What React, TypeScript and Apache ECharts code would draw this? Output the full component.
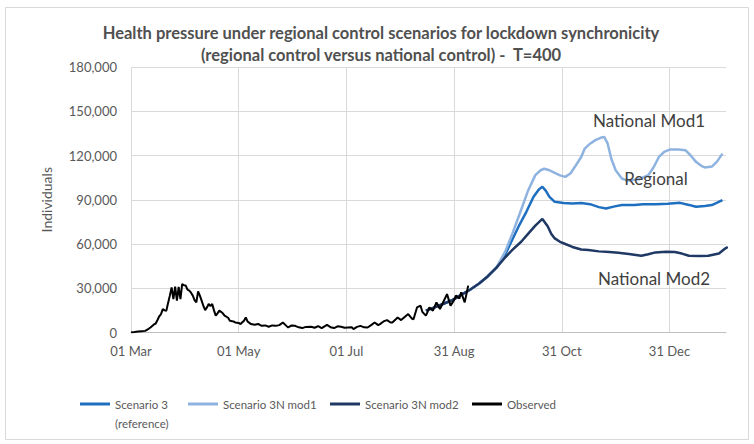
import React, { useEffect, useRef } from "react";
import * as echarts from "echarts";

// Day index 0 = 01 Mar 2020; values in thousands of individuals
const observed: number[][] = [
  [0, 0], [2, 0.3], [4, 0.7], [6, 0.9], [8, 1.1], [10, 2.5], [11, 3.4], [13, 5.5], [14, 6.1], [15, 8.5],
  [16, 11], [17, 12.5], [18, 15.9], [19, 15], [20, 14.8], [21, 20], [22, 25], [23, 30.6], [24, 22.7], [25, 31.1],
  [26, 21.6], [27, 31], [28, 22.7], [29, 32.9], [30, 32], [31, 31.8], [32, 29], [33, 28.4], [34, 27], [35, 25],
  [36, 22], [37, 20.4], [38, 27.9], [39, 25], [40, 21.6], [41, 18], [42, 15.2], [43, 17], [44, 19.3], [45, 18],
  [46, 19.3], [47, 15], [48, 11.4], [49, 13], [50, 14.8], [51, 14], [52, 13], [53, 11.4], [55, 10], [56, 8],
  [58, 7.5], [59, 6.8], [61, 6.5], [62, 5.7], [64, 8], [65, 10.2], [66, 7.5], [68, 5.7], [70, 5.2], [72, 5.8],
  [74, 4.5], [76, 4.8], [78, 3.9], [80, 4.8], [82, 4.5], [84, 5], [86, 6.8], [88, 4.5], [89, 3.4], [91, 4.8],
  [93, 4.5], [95, 3.5], [97, 3], [99, 3.8], [102, 3.9], [104, 3.2], [106, 4.3], [108, 3], [111, 5.2], [113, 3.6],
  [115, 3], [117, 4.2], [119, 3.9], [121, 3.2], [123, 3.4], [125, 3.6], [126, 2.3], [128, 3.8], [130, 4.5], [132, 3.5],
  [134, 3.4], [136, 5], [138, 6.8], [140, 5], [141, 5.7], [143, 7.5], [145, 8.4], [147, 6.8], [148, 6.8], [150, 9],
  [151, 10.2], [153, 8.4], [155, 10.5], [157, 12.5], [159, 9.5], [160, 9], [162, 17], [164, 18.2], [165, 14], [167, 11.4],
  [168, 14], [169, 17], [171, 14.8], [173, 20.4], [175, 15.9], [177, 21], [179, 26], [181, 18.2], [183, 22], [184, 25],
  [186, 23], [187, 27.2], [189, 20.4], [191, 31.8],
];

const commonRise: number[][] = [
  [167, 14.8], [172, 17], [177, 19.5], [182, 22], [187, 25.5], [192, 29], [197, 33], [202, 38], [207, 44],
];

const regionalTail: number[][] = [
  [212, 53], [216, 63], [220, 73], [224, 82], [228, 92], [231, 97], [233, 98.8], [235, 96], [237, 92], [240, 88.6],
  [245, 87.8], [250, 87.5], [255, 87.8], [260, 87], [265, 85], [269, 84.1], [274, 85.5], [278, 86.4], [285, 86.5],
  [290, 87], [297, 87], [304, 87.3], [311, 87.9], [316, 86.5], [320, 85.2], [325, 85.8], [329, 86.4], [332, 88], [335, 89.7],
];

const mod1Tail: number[][] = [
  [212, 55], [216, 67], [220, 80], [225, 96.5], [229, 106.7], [232, 110], [234, 111], [237, 110], [240, 108.2],
  [243, 106.5], [246, 105.5], [249, 108], [252, 113.4], [255, 119], [257, 124.7], [260, 128], [263, 130.4], [266, 132],
  [268, 132.6], [270, 128], [272, 118], [274.5, 110], [278, 104.4], [281, 103], [284, 103.3], [288, 104], [293, 106.7],
  [296, 112], [299, 119], [302, 122.5], [305, 124], [310, 124], [314, 123.6], [317, 120], [320, 115.7], [323, 113],
  [325, 111.9], [329, 112.5], [332, 116], [335, 121.3],
];

const mod2Tail: number[][] = [
  [212, 51], [216, 56], [221, 61.5], [225, 67], [229, 72.5], [233, 77], [236, 72], [238, 67], [240, 63.8], [243, 61.5],
  [246, 60], [250, 58], [255, 56.3], [259, 55.9], [265, 55], [271, 54.6], [276, 54], [282, 53.2], [289, 52], [293, 53],
  [297, 54.3], [303, 54.8], [308, 54.6], [312, 53.5], [316, 52], [322, 51.8], [327, 52], [333, 53.6], [336, 56.5], [338, 58],
];

const seriesNames = ["Scenario 3 (reference)", "Scenario 3N mod1", "Scenario 3N mod2", "Observed"];
const seriesColors = ["#1f6fc0", "#8fb3e0", "#1f3864", "#000000"];
const yTicks = { min: 0, max: 180000, interval: 30000 };
const xTicks = { min: 0, max: 337, interval: 61 };
const annotations = ["National Mod1", "Regional", "National Mod2"];
const titleLines = [
  "Health pressure under regional control scenarios for lockdown synchronicity",
  "(regional control versus national control) -  T=400",
];

const START = Date.UTC(2020, 2, 1);
const MONTHS = ["Jan", "Feb", "Mar", "Apr", "May", "Jun", "Jul", "Aug", "Sep", "Oct", "Nov", "Dec"];
const fmtDay = (v: number) => {
  const d = new Date(START + v * 86400000);
  return String(d.getUTCDate()).padStart(2, "0") + " " + MONTHS[d.getUTCMonth()];
};
const toUnits = (arr: number[][]) => arr.map(([d, v]) => [d, v * 1000]);

const FONT = "Lato";
const TEXT = "#595959";

export default function App() {
  const ref = useRef<HTMLDivElement>(null);
  useEffect(() => {
    if (!ref.current) return;
    const chart = echarts.init(ref.current, null, { renderer: "svg" });
    const legendCommon = {
      orient: "horizontal",
      padding: 0,
      itemWidth: 30,
      itemHeight: 3,
      icon: "rect",
      selectedMode: false,
      textStyle: { color: TEXT, fontSize: 11.5, fontFamily: FONT, lineHeight: 19 },
    };
    const lineSeries = (i: number, data: number[][], width: number) => ({
      name: seriesNames[i],
      type: "line",
      data,
      showSymbol: false,
      symbol: "none",
      lineStyle: { color: seriesColors[i], width },
      itemStyle: { color: seriesColors[i] },
      z: 2 + i,
    });
    const annot = (i: number, x: number, y: number) => ({
      type: "text",
      x,
      y,
      style: {
        text: annotations[i],
        fill: "#404040",
        fontSize: 17,
        fontFamily: FONT,
        align: "center",
        verticalAlign: "middle",
      },
      z: 100,
    });
    chart.setOption({
      animation: false,
      backgroundColor: "#ffffff",
      textStyle: { fontFamily: FONT },
      title: {
        text: titleLines.join("\n"),
        left: 381,
        top: 22,
        padding: 0,
        textAlign: "center",
        textStyle: { fontSize: 16.5, fontWeight: "bold", color: "#505050", fontFamily: FONT, lineHeight: 22 },
      },
      grid: { left: 131, right: 28, top: 67, bottom: 111.5, containLabel: false },
      xAxis: {
        type: "value",
        min: xTicks.min,
        max: xTicks.max,
        interval: xTicks.interval,
        axisLine: { show: true, lineStyle: { color: "#bfbfbf", width: 1 } },
        axisTick: { show: false },
        axisLabel: {
          formatter: fmtDay,
          showMaxLabel: false,
          color: TEXT,
          fontSize: 13,
          fontFamily: FONT,
          margin: 12,
        },
        splitLine: { show: true, showMaxLine: false, lineStyle: { color: "#d9d9d9", width: 1 } },
      },
      yAxis: {
        type: "value",
        min: yTicks.min,
        max: yTicks.max,
        interval: yTicks.interval,
        name: "Individuals",
        nameLocation: "middle",
        nameGap: 78,
        nameRotate: 90,
        nameTextStyle: { color: TEXT, fontSize: 14, fontFamily: FONT },
        axisLine: { show: false },
        axisTick: { show: false },
        axisLabel: {
          formatter: (v: number) => v.toLocaleString("en-US"),
          color: TEXT,
          fontSize: 13,
          fontFamily: FONT,
          margin: 14,
        },
        splitLine: { show: true, lineStyle: { color: "#d9d9d9", width: 1 } },
      },
      legend: [
        {
          ...legendCommon,
          data: [seriesNames[0]],
          left: 80,
          top: 375.5,
          formatter: () => "\nScenario 3\n(reference)",
        },
        { ...legendCommon, data: [seriesNames[1]], left: 188, top: 394.5 },
        { ...legendCommon, data: [seriesNames[2]], left: 330, top: 394.5 },
        { ...legendCommon, data: [seriesNames[3]], left: 472, top: 394.5 },
      ],
      series: [
        lineSeries(0, toUnits([...commonRise, ...regionalTail]), 2.5),
        lineSeries(1, toUnits([...commonRise, ...mod1Tail]), 2.5),
        lineSeries(2, toUnits([...commonRise, ...mod2Tail]), 2.5),
        lineSeries(3, toUnits(observed), 2),
      ],
      graphic: [
        {
          type: "rect",
          shape: { x: 5.5, y: 7.5, width: 743, height: 432 },
          style: { fill: "none", stroke: "#d9d9d9", lineWidth: 1 },
          silent: true,
          z: -10,
        },
        annot(0, 649, 120),
        annot(1, 656, 178),
        annot(2, 654, 278),
      ],
    });
    return () => chart.dispose();
  }, []);
  return (
    <div
      ref={ref}
      style={{ position: "absolute", left: 0, top: 0, width: 754, height: 444, background: "#fff" }}
    />
  );
}
